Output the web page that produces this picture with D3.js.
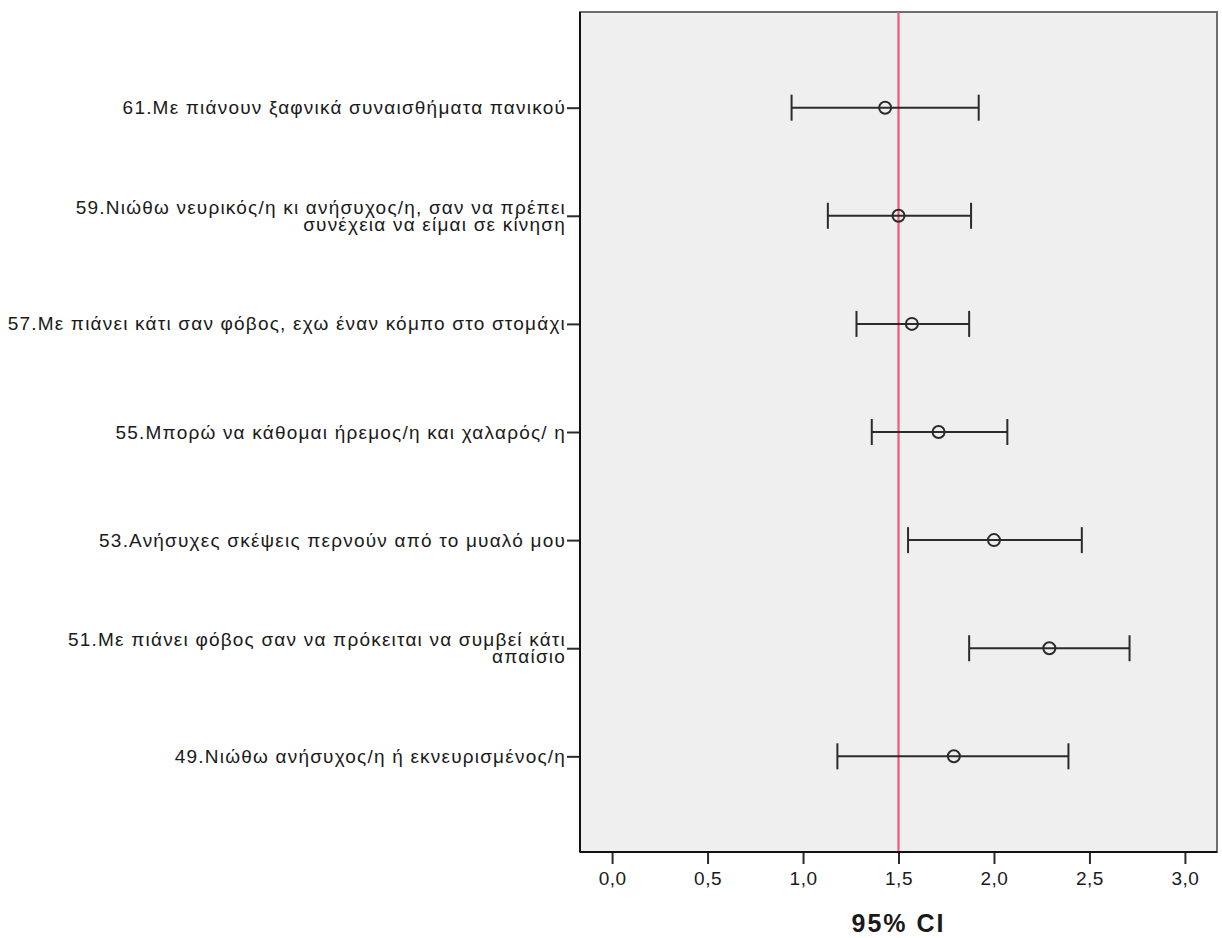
<!DOCTYPE html>
<html>
<head>
<meta charset="utf-8">
<script src="https://cdn.jsdelivr.net/npm/d3@7"></script>
<style>
    body { margin: 0; background: #ffffff; }
    svg { display: block; }
</style>
</head>
<body>
<div id="chart"></div>
<script>
// item labels, top to bottom (line breaks as in the original)
var items = [
    ['61.Με πιάνουν ξαφνικά συναισθήματα πανικού'],
    ['59.Νιώθω νευρικός/η κι ανήσυχος/η, σαν να πρέπει', 'συνέχεια να είμαι σε κίνηση'],
    ['57.Με πιάνει κάτι σαν φόβος, εχω έναν κόμπο στο στομάχι'],
    ['55.Μπορώ να κάθομαι ήρεμος/η και χαλαρός/ η'],
    ['53.Ανήσυχες σκέψεις περνούν από το μυαλό μου'],
    ['51.Με πιάνει φόβος σαν να πρόκειται να συμβεί κάτι', 'απαίσιο'],
    ['49.Νιώθω ανήσυχος/η ή εκνευρισμένος/η']
];
var means = [1.43, 1.50, 1.57, 1.71, 2.00, 2.29, 1.79];
var lower = [0.94, 1.13, 1.28, 1.36, 1.55, 1.87, 1.18];
var upper = [1.92, 1.88, 1.87, 2.07, 2.46, 2.71, 2.39];
var refValue = 1.5;
var xTicks = [0, 0.5, 1, 1.5, 2, 2.5, 3];
var xTitle = '95% CI';

function createChart(elementId) {

    var width = 1222;
    var height = 938;
    var margins = { top: 12, right: 5, bottom: 86, left: 580 };
    var innerWidth = width - margins.left - margins.right;
    var innerHeight = height - margins.top - margins.bottom;
    var font = 'Arial, "Liberation Sans", sans-serif';

    var svg = d3.select(elementId)
        .append('svg')
        .attr('width', width)
        .attr('height', height);

    var g = svg.append('g')
        .attr('transform', 'translate(' + margins.left + ',' + margins.top + ')');

    var rows = items.map(function(d, i) {
        return { key: 'r' + i, lines: d, mean: means[i], lo: lower[i], hi: upper[i] };
    });

    var x = d3.scaleLinear()
        .domain([-0.168, 3.168])
        .range([0, innerWidth]);

    var y = d3.scalePoint()
        .domain(rows.map(function(d) { return d.key; }))
        .range([0, innerHeight])
        .padding(0.885);

    // plot background
    g.append('rect')
        .attr('width', innerWidth)
        .attr('height', innerHeight)
        .style('fill', '#efefef')
        .style('stroke', '#6e6e6e')
        .style('stroke-width', 2);

    // reference line
    g.append('line')
        .attr('x1', x(refValue))
        .attr('x2', x(refValue))
        .attr('y1', 0)
        .attr('y2', innerHeight)
        .style('stroke', '#f0587a')
        .style('stroke-width', 2.2);

    // error bars
    var bars = g.append('g')
        .selectAll('g')
        .data(rows)
        .enter()
        .append('g')
        .attr('transform', function(d) { return 'translate(0,' + y(d.key) + ')'; });

    bars.append('line')
        .attr('x1', function(d) { return x(d.lo); })
        .attr('x2', function(d) { return x(d.hi); })
        .style('stroke', '#2b2b2b')
        .style('stroke-width', 2);

    bars.selectAll('.cap')
        .data(function(d) { return [d.lo, d.hi]; })
        .enter()
        .append('line')
        .attr('class', 'cap')
        .attr('x1', function(v) { return x(v); })
        .attr('x2', function(v) { return x(v); })
        .attr('y1', -13)
        .attr('y2', 13)
        .style('stroke', '#2b2b2b')
        .style('stroke-width', 2);

    bars.append('circle')
        .attr('cx', function(d) { return x(d.mean); })
        .attr('r', 6)
        .style('fill', 'none')
        .style('stroke', '#2b2b2b')
        .style('stroke-width', 2);

    // y axis
    var yAxis = g.append('g')
        .call(d3.axisLeft(y).tickSize(13).tickPadding(1).tickFormat(''));

    yAxis.select('.domain').remove();
    yAxis.selectAll('.tick line')
        .style('stroke', '#2b2b2b')
        .style('stroke-width', 2);

    yAxis.selectAll('.tick text').remove();
    yAxis.selectAll('.tick')
        .append('text')
        .attr('x', -14)
        .attr('text-anchor', 'end')
        .style('font-family', font)
        .style('font-size', '19px')
        .style('letter-spacing', '1.2px')
        .style('fill', '#1a1a1a')
        .each(function(key) {
            var row = rows.find(function(r) { return r.key === key; });
            var lineH = 17;
            var first = 6.5 - (row.lines.length - 1) * lineH / 2 - 0.5;
            d3.select(this)
                .selectAll('tspan')
                .data(row.lines)
                .enter()
                .append('tspan')
                .attr('x', -14)
                .attr('y', function(t, j) { return first + j * lineH; })
                .text(function(t) { return t; });
        });

    // x axis
    var xAxis = g.append('g')
        .attr('transform', 'translate(0,' + innerHeight + ')')
        .call(d3.axisBottom(x)
            .tickValues(xTicks)
            .tickSize(12)
            .tickPadding(8)
            .tickFormat(function(d) { return d3.format('.1f')(d).replace('.', ','); }));

    xAxis.select('.domain').remove();
    xAxis.selectAll('.tick line')
        .style('stroke', '#2b2b2b')
        .style('stroke-width', 2);
    xAxis.selectAll('.tick text')
        .style('font-family', font)
        .style('font-size', '19px')
        .style('letter-spacing', '0.5px')
        .style('fill', '#1a1a1a');

    // left and bottom frame lines
    g.append('line')
        .attr('x1', 0).attr('x2', 0)
        .attr('y1', 0).attr('y2', innerHeight)
        .style('stroke', '#111')
        .style('stroke-width', 2);
    g.append('line')
        .attr('x1', 0).attr('x2', innerWidth)
        .attr('y1', innerHeight).attr('y2', innerHeight)
        .style('stroke', '#111')
        .style('stroke-width', 2);

    // x title
    g.append('text')
        .attr('x', innerWidth / 2)
        .attr('y', innerHeight + 80)
        .attr('text-anchor', 'middle')
        .style('font-family', font)
        .style('font-size', '25px')
        .style('font-weight', 'bold')
        .style('letter-spacing', '2px')
        .style('fill', '#1a1a1a')
        .text(xTitle);
}

createChart('#chart');
</script>
</body>
</html>
